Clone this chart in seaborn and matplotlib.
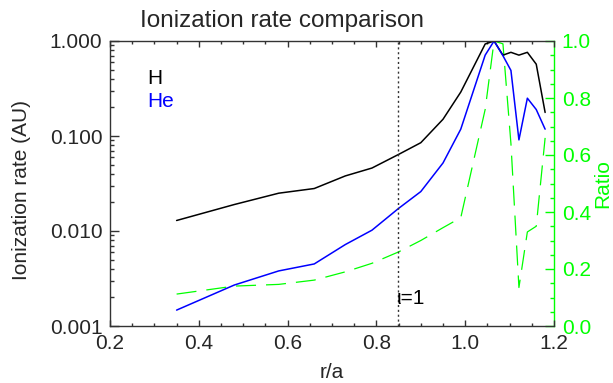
import numpy as np
import pandas as pd
import matplotlib
matplotlib.use("Agg")
import matplotlib.pyplot as plt
import seaborn as sns
from matplotlib.ticker import MultipleLocator, FixedLocator, FixedFormatter, LogLocator, NullFormatter, NullLocator

# ---- data ----
r_a = [0.35, 0.48, 0.58, 0.66, 0.73, 0.79, 0.85, 0.90, 0.95, 0.99,
       1.045, 1.065, 1.085, 1.103, 1.121, 1.14, 1.16, 1.18]
rate_H = [0.0129, 0.019, 0.025, 0.028, 0.038, 0.046, 0.064, 0.085, 0.15, 0.29,
          0.93, 1.0, 0.71, 0.76, 0.71, 0.76, 0.57, 0.177]
rate_He = [0.00147, 0.0027, 0.0038, 0.0045, 0.0072, 0.0102, 0.0173, 0.026, 0.052, 0.118,
           0.71, 1.0, 0.70, 0.49, 0.091, 0.25, 0.19, 0.118]
ratio = [0.112, 0.14, 0.146, 0.161, 0.19, 0.22, 0.26, 0.30, 0.345, 0.38,
         0.76, 1.0, 0.99, 0.64, 0.135, 0.33, 0.35, 0.66]
iota1_pos = 0.848

left_ticks = [0.001, 0.01, 0.1, 1.0]
left_labels = ["0.001", "0.010", "0.100", "1.000"]
x_ticks = [0.2, 0.4, 0.6, 0.8, 1.0, 1.2]
x_labels = ["0.2", "0.4", "0.6", "0.8", "1.0", "1.2"]
right_ticks = [0.0, 0.2, 0.4, 0.6, 0.8, 1.0]
right_labels = ["0.0", "0.2", "0.4", "0.6", "0.8", "1.0"]

df = pd.DataFrame({"r": r_a, "H": rate_H, "He": rate_He, "ratio": ratio})

sns.set_style("ticks")
plt.rcParams["font.family"] = ["Liberation Sans", "DejaVu Sans"]

W, H = 613, 383
fig = plt.figure(figsize=(W / 100, H / 100), dpi=100, facecolor="white")
L, R, T, B = 110, 554, 41, 326
rect = [L / W, 1 - B / H, (R - L) / W, (B - T) / H]

GREEN = "#00ff00"
SPINE = "#333333"
FS = 15

# ratio axes (separate axes at the same position, right-hand scale)
ax2 = fig.add_axes(rect, label="ratio")
sns.lineplot(data=df, x="r", y="ratio", ax=ax2, color=GREEN, lw=0.9,
             estimator=None, sort=False)
ax2.lines[-1].set_linestyle((0, (16, 8)))
ax2.set_xlim(0.2, 1.2)
ax2.set_ylim(0.0, 1.0)
ax2.set_xlabel("")
ax2.set_ylabel("")
ax2.patch.set_visible(False)
ax2.xaxis.set_visible(False)
ax2.yaxis.tick_right()
ax2.yaxis.set_major_locator(FixedLocator(right_ticks))
ax2.yaxis.set_major_formatter(FixedFormatter(right_labels))
ax2.yaxis.set_minor_locator(MultipleLocator(0.05))
ax2.tick_params(axis="y", which="major", direction="in", right=True, left=False,
                labelright=True, labelleft=False,
                length=6.4, width=1.0, color=GREEN, labelcolor=GREEN, labelsize=FS, pad=5.5)
ax2.tick_params(axis="y", which="minor", direction="in", right=True, left=False,
                length=3.2, width=1.0, color=GREEN)
for s in ["left", "bottom", "top"]:
    ax2.spines[s].set_visible(False)
ax2.spines["right"].set_visible(True)
ax2.spines["right"].set_color(GREEN)
ax2.spines["right"].set_linewidth(1.0)

# rate axes (log scale, left)
ax = fig.add_axes(rect, label="rate")
ax.patch.set_visible(False)
sns.lineplot(data=df, x="r", y="H", ax=ax, color="black", lw=1.1, estimator=None, sort=False)
sns.lineplot(data=df, x="r", y="He", ax=ax, color="#0000ff", lw=1.1, estimator=None, sort=False)
ax.set_yscale("log")
ax.set_xlim(0.2, 1.2)
ax.set_ylim(0.001, 1.0)
ax.axvline(iota1_pos, color=SPINE, lw=1.0, ls=(0, (1.5, 2)))
ax.set_xlabel("")
ax.set_ylabel("")

ax.xaxis.set_major_locator(FixedLocator(x_ticks))
ax.xaxis.set_major_formatter(FixedFormatter(x_labels))
ax.xaxis.set_minor_locator(MultipleLocator(0.05))
ax.yaxis.set_major_locator(FixedLocator(left_ticks))
ax.yaxis.set_major_formatter(FixedFormatter(left_labels))
ax.yaxis.set_minor_locator(LogLocator(base=10, subs=np.arange(2, 10), numticks=20))
ax.yaxis.set_minor_formatter(NullFormatter())
ax.tick_params(axis="x", which="major", direction="in", top=True, bottom=True,
               length=4.2, width=1.0, color=SPINE, labelsize=FS, pad=6)
ax.tick_params(axis="x", which="minor", direction="in", top=True, bottom=True,
               length=2.2, width=1.0, color=SPINE)
ax.tick_params(axis="y", which="major", direction="in", left=True, right=False,
               length=6.4, width=1.0, color=SPINE, labelsize=FS, pad=5.5)
ax.tick_params(axis="y", which="minor", direction="in", left=True, right=False,
               length=3.2, width=1.0, color=SPINE)
for s in ["left", "bottom", "top"]:
    ax.spines[s].set_color(SPINE)
    ax.spines[s].set_linewidth(1.0)
ax.spines["right"].set_visible(False)

# ---- texts ----
fig.text(147 / W, 1 - 78 / H, "H", color="black", fontsize=FS, ha="left", va="center")
fig.text(147 / W, 1 - 101.5 / H, "He", color="#0000ff", fontsize=FS, ha="left", va="center")
ax.text(iota1_pos - 0.002, 10 ** (-(298 - T) / 95.0), "ι=1", fontsize=FS,
        ha="left", va="center", color="black")

fig.text(282.5 / W, 1 - 27 / H, "Ionization rate comparison", fontsize=17.5, ha="center", va="baseline")
fig.text(332 / W, 1 - 373 / H, "r/a", fontsize=FS, ha="center", va="center")
fig.text(22 / W, 1 - 190 / H, "Ionization rate (AU)", fontsize=FS, ha="center", va="center", rotation=90)
fig.text(603 / W, 1 - 184 / H, "Ratio", fontsize=FS, ha="center", va="center", rotation=90, color=GREEN)

fig.savefig("out.png", dpi=100, facecolor="white")
